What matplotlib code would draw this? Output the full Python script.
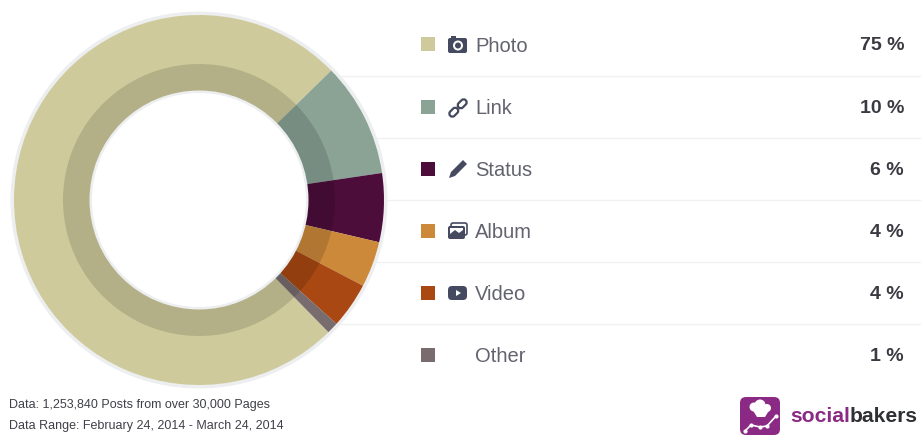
import matplotlib
matplotlib.use("Agg")
import matplotlib.pyplot as plt
from matplotlib.patches import Circle, FancyBboxPatch, Polygon, Rectangle
from matplotlib.transforms import Affine2D

categories = ["Photo", "Link", "Status", "Album", "Video", "Other"]
shares = [75, 10, 6, 4, 4, 1]
colors = ["#CFCA9C", "#8AA395", "#4D0D3B", "#CC893A", "#A94812", "#786C6E"]
footer_lines = ["Data: 1,253,840 Posts from over 30,000 Pages",
                "Data Range: February 24, 2014 - March 24, 2014"]

W, H = 923, 436
CX, CY = 199, 200
R_OUT, R_SHADE, R_HOLE = 185, 136, 107
plt.rcParams["font.family"] = ["Liberation Sans", "DejaVu Sans"]

fig = plt.figure(figsize=(W / 100, H / 100), dpi=100, facecolor="white")

# Page layer in pixel coordinates
page = fig.add_axes([0, 0, 1, 1])
page.set_xlim(0, W)
page.set_ylim(H, 0)
page.axis("off")

row_y = [45 + 62 * i for i in range(len(categories))]
for i in range(len(categories) - 1):
    sep = (row_y[i] + row_y[i + 1]) / 2
    page.plot([300, 920], [sep, sep], color="#F1F1F3", lw=1.0, zorder=1)

TEXT = "#62636F"
ICON = "#454A60"
for name, share, col, y in zip(categories, shares, colors, row_y):
    page.add_patch(Rectangle((421, y - 7.5), 14, 14, fc=col, ec="none", zorder=3))
    page.text(475, y + 1, name, fontsize=14.5, color=TEXT, va="center", ha="left", zorder=3)
    page.text(904, y + 1, f"{share} %", fontsize=14, color="#3A3A42", weight="bold",
              va="center", ha="right", zorder=3)


def rounded(x, y, w, h, r, fc, ec="none", lw=0, transform=None):
    p = FancyBboxPatch((x + r, y + r), w - 2 * r, h - 2 * r,
                       boxstyle=f"round,pad={r},rounding_size={r}",
                       fc=fc, ec=ec, lw=lw, zorder=4)
    if transform is not None:
        p.set_transform(transform + page.transData)
    page.add_patch(p)
    return p


# Camera
y = row_y[0]
rounded(448, y - 7, 19, 15, 2, ICON)
page.add_patch(Rectangle((451, y - 9), 5, 3, fc=ICON, ec="none", zorder=4))
page.add_patch(Circle((458, y + 0.5), 5, fc="white", ec="none", zorder=5))
page.add_patch(Circle((458, y + 0.5), 3, fc=ICON, ec="none", zorder=6))

# Chain link, two short loops
y = row_y[1]
for ox, oy in [(-4.2, 4.2), (4.2, -4.2)]:
    t = Affine2D().rotate_deg_around(0, 0, -45).translate(458 + ox, y + 1 + oy)
    rounded(-5, -3, 10, 6, 3, "none", ec=ICON, lw=1.6, transform=t)

# Pencil
y = row_y[2]
page.add_patch(Polygon([(449, y + 9), (451, y + 3), (463, y - 9), (467, y - 5),
                        (455, y + 7)], fc=ICON, ec="none", zorder=4))

# Photo stack
y = row_y[3]
rounded(451, y - 8, 16, 12, 2, "white", ec=ICON, lw=1.2)
rounded(448, y - 5, 17, 13, 2, ICON)
page.add_patch(Rectangle((450, y - 3), 13, 6, fc="white", ec="none", zorder=5))
page.add_patch(Polygon([(450, y + 3), (455, y - 1), (459, y + 2), (463, y - 1), (463, y + 3)],
                       fc=ICON, ec="none", zorder=6))

# Play button
y = row_y[4]
rounded(448, y - 7, 19, 14, 4, ICON)
page.add_patch(Polygon([(456, y - 3), (456, y + 3), (461, y)], fc="white", ec="none", zorder=5))

for line, ly in zip(footer_lines, [405, 426]):
    page.text(9, ly, line, fontsize=9, color="#3F4048", va="center", ha="left")

# Brand mark
rounded(740, 397, 40, 38, 6, "#8A2A84")
page.add_patch(Circle((754, 407), 4.5, fc="white", ec="none", zorder=5))
page.add_patch(Circle((760, 405), 5.5, fc="white", ec="none", zorder=5))
page.add_patch(Circle((767, 408), 4, fc="white", ec="none", zorder=5))
page.add_patch(Polygon([(752, 409), (770, 409), (765, 417), (757, 417)], fc="white", ec="none", zorder=5))
page.plot([745, 751, 760, 767, 776], [431, 425, 427, 426, 416], color="white", lw=1.2,
          marker="o", ms=2, zorder=5)
social = page.text(790, 416, "social", fontsize=15.2, weight="bold", color="#8A2A84", va="center", ha="left")
fig.canvas.draw()
box = social.get_window_extent()
page.text(box.x1, 416, "bakers", fontsize=15.2, weight="bold", color="#2F3033", va="center", ha="left")

# Donut, sized in pixels around its centre; Photo begins past the lower right
PAD = 192
donut = fig.add_axes([(CX - PAD) / W, 1 - (CY + PAD) / H, 2 * PAD / W, 2 * PAD / H])
donut.patch.set_alpha(0)
donut.add_patch(Circle((0, 0), R_OUT + 3.5, fc="#ECEEF0", ec="none"))
start = 90 - 135.6
donut.pie(shares, colors=colors, startangle=start, counterclock=False, radius=R_OUT,
          wedgeprops={"linewidth": 0})
donut.pie(shares, colors=["#00000022"] * len(shares), startangle=start, counterclock=False,
          radius=R_SHADE, wedgeprops={"linewidth": 0})
donut.add_patch(Circle((0, 0), R_HOLE + 2.5, fc="#ECEEF0", ec="none", zorder=5))
donut.add_patch(Circle((0, 0), R_HOLE, fc="white", ec="none", zorder=6))
donut.set_xlim(-PAD, PAD)
donut.set_ylim(-PAD, PAD)
donut.set_aspect("equal")
donut.axis("off")

fig.savefig("out.png", dpi=100, facecolor="white")
